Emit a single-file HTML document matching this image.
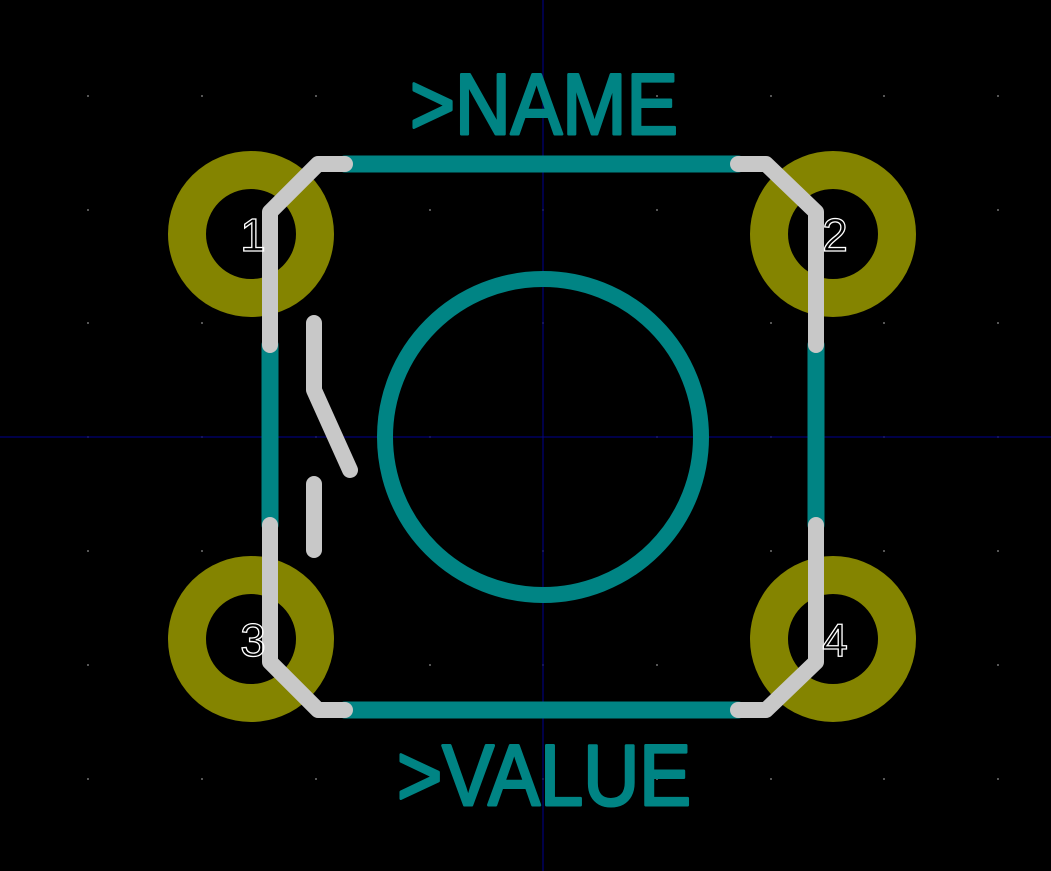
<!DOCTYPE html>
<html><head><meta charset="utf-8"><style>
html,body{margin:0;padding:0;background:#000;}
svg{display:block;}
</style></head><body>
<svg width="1051" height="871" viewBox="0 0 1051 871" xmlns="http://www.w3.org/2000/svg">
<rect width="1051" height="871" fill="#000"/>
<g id="grid" fill="#555"></g>
<line x1="543" y1="0" x2="543" y2="871" stroke="#000060" stroke-width="1.5"/>
<line x1="0" y1="437" x2="1051" y2="437" stroke="#000060" stroke-width="1.5"/>
<g fill="none" stroke="#848400" stroke-width="38">
<circle cx="251" cy="234" r="64"/>
<circle cx="833" cy="234" r="64"/>
<circle cx="251" cy="639" r="64"/>
<circle cx="833" cy="639" r="64"/>
</g>
<g stroke="#008484" stroke-width="17" fill="none" stroke-linecap="round">
<line x1="345" y1="164" x2="738" y2="164"/>
<line x1="345" y1="710" x2="738" y2="710"/>
<line x1="270" y1="345" x2="270" y2="525"/>
<line x1="816" y1="345" x2="816" y2="525"/>
<circle cx="543" cy="437" r="158" stroke-width="16"/>
</g>
<g stroke="#c8c8c8" stroke-width="16" fill="none" stroke-linecap="round" stroke-linejoin="round">
<polyline points="270,345 270,212 318,164 345,164"/>
<polyline points="738,164 766,164 816,212 816,345"/>
<polyline points="270,525 270,662 318,710 345,710"/>
<polyline points="738,710 766,710 816,662 816,525"/>
<polyline points="314,323 314,390 350,470"/>
<line x1="314" y1="484" x2="314" y2="550"/>
</g>
<g fill="none" stroke="#fff" stroke-width="1.3" font-family="Liberation Sans, sans-serif" font-size="46" text-anchor="middle">
<text x="253" y="251">1</text>
<text x="835" y="251">2</text>
<text x="253" y="656">3</text>
<text x="835" y="656">4</text>
</g>
<g fill="#008484" stroke="#008484" stroke-width="3" stroke-linejoin="round" font-family="Liberation Sans, sans-serif" font-size="86">
<text x="410" y="134" textLength="268" lengthAdjust="spacingAndGlyphs">&gt;NAME</text>
<text x="397" y="805" textLength="294" lengthAdjust="spacingAndGlyphs">&gt;VALUE</text>
</g>
<script>
const gridXs=[88,202,316,430,543,657,771,884,998];
const gridYs=[96,210,323,437,551,665,779];
const g=document.getElementById('grid');
gridXs.forEach(x=>gridYs.forEach(y=>{
const r=document.createElementNS('http://www.w3.org/2000/svg','rect');
r.setAttribute('x',x-1);r.setAttribute('y',y-1);r.setAttribute('width',2);r.setAttribute('height',2);


g.appendChild(r);
}));
</script>
</svg>
</body></html>
